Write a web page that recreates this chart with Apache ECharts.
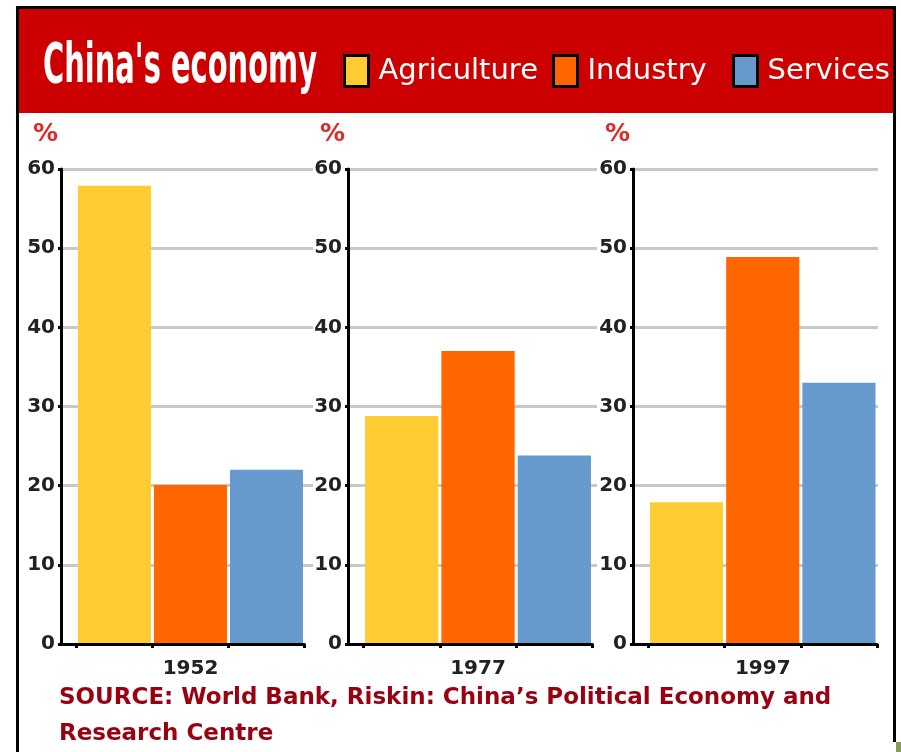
<!DOCTYPE html>
<html>
<head>
<meta charset="utf-8">
<style>
  html, body { margin: 0; padding: 0; background: #ffffff; }
  #chart { width: 901px; height: 752px; }
</style>
<script src="https://cdn.jsdelivr.net/npm/echarts@6/dist/echarts.min.js"></script>
</head>
<body>
<div id="chart"></div>
<script>
// ---- data ----
const years = ['1952', '1977', '1997'];
const sectors = ['Agriculture', 'Industry', 'Services'];
const agriculture = [57.9, 28.8, 17.9];
const industry = [20.1, 37.0, 48.9];
const services = [22.0, 23.8, 33.0];
const yMin = 0, yMax = 60, yStep = 10;
const unitLabel = '%';
const titleText = "China's economy";
const sourceText = 'SOURCE: World Bank, Riskin: China\u2019s Political Economy and\nResearch Centre';

// ---- styling / layout ----
const sectorColors = ['#FFCC33', '#FF6600', '#6699CC'];
const sectorValues = [agriculture, industry, services];
const panels = [
  { axisX: 61,  barL: 76.5, barR: 304.5, gridR: 313 },
  { axisX: 348, barL: 363.5, barR: 592.5, gridR: 597 },
  { axisX: 633, barL: 648.5, barR: 877, gridR: 878 }
];
const W = 901, H = 752;
const plotTop = 169, plotBottom = 644;
const numFont = '"DejaVu Sans", Verdana, sans-serif';

const grids = [], xAxes = [], yAxes = [], series = [];
panels.forEach((p, pi) => {
  // grid A: y axis + gridlines
  grids.push({ left: p.axisX, width: p.gridR - p.axisX, top: plotTop, bottom: H - plotBottom });
  // grid B: x axis line
  grids.push({ left: p.axisX, width: p.barR - p.axisX, top: plotTop, bottom: H - plotBottom });
  // grid C: bars + category ticks
  grids.push({ left: p.barL, width: p.barR - p.barL, top: plotTop, bottom: H - plotBottom });

  const g = pi * 3;
  xAxes.push({ gridIndex: g, type: 'category', data: sectors, show: false });
  yAxes.push({
    gridIndex: g, type: 'value', min: yMin, max: yMax, interval: yStep,
    name: unitLabel, nameLocation: 'end', nameGap: 22,
    nameTextStyle: { color: '#dd2a2a', fontSize: 25, fontWeight: 'bold', fontFamily: numFont, align: 'right', padding: [0, 3, 0, 0] },
    axisLine: { show: true, lineStyle: { color: '#000', width: 3 } },
    axisTick: { show: true, length: 3, lineStyle: { color: '#000', width: 3 } },
    axisLabel: { color: '#222', fontSize: 20, fontWeight: 'bold', fontFamily: numFont, margin: 6 },
    splitLine: { show: true, showMinLine: false, lineStyle: { color: '#c8c8c8', width: 3 } }
  });

  xAxes.push({
    gridIndex: g + 1, type: 'category', data: sectors, z: 5,
    axisLine: { show: true, lineStyle: { color: '#000', width: 3 } },
    axisTick: { show: false }, axisLabel: { show: false }
  });
  yAxes.push({ gridIndex: g + 1, type: 'value', min: yMin, max: yMax, show: false });

  xAxes.push({
    gridIndex: g + 2, type: 'category', data: sectors, z: 5,
    axisLine: { show: false },
    axisTick: { show: true, length: 4, lineStyle: { color: '#000', width: 3 } },
    axisLabel: { show: false },
    name: years[pi], nameLocation: 'middle', nameGap: 15,
    nameTextStyle: { color: '#222', fontSize: 20, fontWeight: 'bold', fontFamily: numFont }
  });
  yAxes.push({ gridIndex: g + 2, type: 'value', min: yMin, max: yMax, show: false });

  sectors.forEach((s, si) => {
    series.push({
      type: 'bar', name: s, xAxisIndex: g + 2, yAxisIndex: g + 2,
      data: sectors.map((_, k) => (k === si ? sectorValues[si][pi] : '-')),
      itemStyle: { color: sectorColors[si] },
      barGap: '-100%', barCategoryGap: '4%'
    });
  });
});

// title scale to fit the condensed look
const titleFont = 'bold 55px "Liberation Sans Narrow", "DejaVu Sans Condensed", "DejaVu Sans", sans-serif';
const mctx = document.createElement('canvas').getContext('2d');
mctx.font = titleFont;
const titleScale = 274 / mctx.measureText(titleText).width;

const legendStyle = (left) => ({
  left: left, top: 54, padding: 0, icon: 'rect',
  itemWidth: 24, itemHeight: 31,
  itemStyle: { borderColor: '#000', borderWidth: 3 },
  textStyle: {
    color: '#fff', fontSize: 29, fontFamily: numFont, padding: [0, 0, 0, 5],
    textShadowColor: '#5a0000', textShadowOffsetX: 2, textShadowOffsetY: 2, textShadowBlur: 0
  }
});

const chart = echarts.init(document.getElementById('chart'), null, { renderer: 'canvas' });
chart.setOption({
  animation: false,
  backgroundColor: '#ffffff',
  title: {
    text: sourceText, left: 59, top: 680, padding: 0,
    textStyle: { color: '#990011', fontSize: 23, fontWeight: 'bold', fontFamily: numFont, lineHeight: 36 }
  },
  legend: [
    Object.assign({ data: [sectors[0]] }, legendStyle(343)),
    Object.assign({ data: [sectors[1]] }, legendStyle(552)),
    Object.assign({ data: [sectors[2]] }, legendStyle(732))
  ],
  graphic: [
    { type: 'rect', shape: { x: 19, y: 9, width: 874, height: 104 }, style: { fill: '#CC0000' }, z: -10 },
    { type: 'rect', shape: { x: 16, y: 6, width: 880, height: 3 }, style: { fill: '#000' }, z: -9 },
    { type: 'rect', shape: { x: 16, y: 6, width: 3, height: 746 }, style: { fill: '#000' }, z: -9 },
    { type: 'rect', shape: { x: 893, y: 6, width: 3, height: 736 }, style: { fill: '#000' }, z: -9 },
    { type: 'rect', shape: { x: 896, y: 742, width: 5, height: 10 }, style: { fill: '#8a9a5a' }, z: -9 },
    {
      type: 'text', x: 43, y: 68, scaleX: titleScale, z: 10,
      style: {
        text: titleText, x: 0, y: 0, font: titleFont, fill: '#ffffff',
        textAlign: 'left', textVerticalAlign: 'middle', verticalAlign: 'middle',
        shadowColor: '#6a0000', shadowOffsetX: 3, shadowOffsetY: 3, shadowBlur: 0
      }
    }
  ],
  grid: grids,
  xAxis: xAxes,
  yAxis: yAxes,
  series: series
});
</script>
</body>
</html>
